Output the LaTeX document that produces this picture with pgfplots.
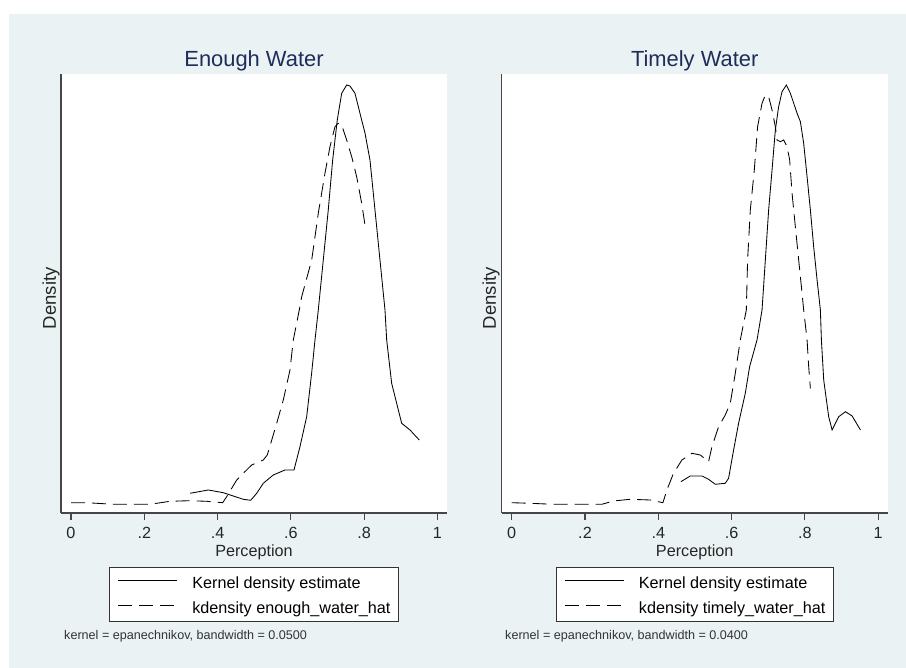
\documentclass[border=0pt]{standalone}
\usepackage{fontspec}
\setmainfont{Liberation Sans}
\usepackage{pgfplots}
\pgfplotsset{compat=1.18}
\definecolor{bgc}{RGB}{234,242,243}
\definecolor{titc}{RGB}{30,45,90}
\definecolor{axc}{RGB}{70,70,70}
\newcommand{\fs}[1]{\fontsize{#1}{#1}\selectfont}
\pgfplotsset{
  stata/.style={
    scale only axis, width=386pt, height=439pt,
    xmin=-0.0273, xmax=1.026, ymin=0, ymax=4.39,
    axis lines*=left,
    axis line style={axc, line width=1.1pt},
    axis background/.style={fill=white},
    xtick={0,0.2,0.4,0.6,0.8,1},
    xticklabels={0,.2,.4,.6,.8,1},
    ytick=\empty,
    tick align=outside, major tick length=7pt,
    tick style={axc, line width=1.1pt},
    xticklabel style={font=\fs{16.2}, anchor=base, inner sep=0pt, yshift=-19pt, text=black!85},
    xlabel style={at={(axis description cs:0.5,0)}, anchor=base, inner sep=0pt, yshift=-43.5pt, font=\fs{16.2}, text=black!85},
    title style={at={(axis description cs:0.5,1)}, anchor=base, yshift=1.5pt, font=\fs{21.9}, text=titc},
    ylabel style={font=\fs{18.5}, anchor=base, text=black!85},
    legend style={at={(axis description cs:0.5,-0.123)}, anchor=north,
      draw=black!80, line width=1pt, fill=white, font=\fs{16.2},
      inner xsep=8pt, inner ysep=6.8pt, row sep=8.4pt,
      nodes={inner sep=0pt, text height=14.5pt, text depth=1.5pt},
      /tikz/every odd column/.append style={column sep=15pt}},
    legend cell align=left,
    legend image code/.code={\draw[#1] (0pt,1.5pt) -- (59pt,1.5pt);},
    solidk/.style={black, line width=0.85pt, solid},
    dashk/.style={black, line width=0.85pt, dash pattern=on 14pt off 7pt},
  }
}
\begin{document}
\begin{tikzpicture}
\useasboundingbox (0pt,0pt) rectangle (906pt,668pt);
\fill[white] (0pt,0pt) rectangle (906pt,668pt);
\fill[bgc] (9pt,0pt) rectangle (906pt,654pt);

\begin{axis}[stata, at={(61pt,155pt)}, anchor=south west,
  title={Enough Water}, xlabel={Perception}, ylabel={Density},
  ylabel style={at={(axis description cs:-0.013,0.489)}}]
\addplot[solidk] coordinates {
(0.3247,0.197) (0.3746,0.23) (0.4156,0.203) (0.4428,0.17) (0.4701,0.137)
(0.4903,0.127) (0.5067,0.197) (0.5247,0.297) (0.552,0.38) (0.5839,0.43)
(0.6085,0.43) (0.6248,0.663) (0.6431,0.963) (0.6567,1.40) (0.6658,1.73)
(0.6748,2.03) (0.6884,2.53) (0.702,3.03) (0.714,3.53) (0.7266,3.93)
(0.7386,4.197) (0.7522,4.28) (0.7612,4.27) (0.7749,4.197) (0.7885,3.997)
(0.8022,3.80) (0.8158,3.53) (0.8295,3.03) (0.8431,2.53) (0.8568,2.03)
(0.8614,1.73) (0.875,1.297) (0.8887,1.097) (0.9023,0.897) (0.925,0.83)
(0.9503,0.73)
};
\addlegendentry{Kernel density estimate}
\addplot[dashk] coordinates {
(0,0.103) (0.0428,0.103) (0.1154,0.087) (0.2156,0.087) (0.2701,0.117)
(0.3247,0.123) (0.3703,0.117) (0.4139,0.103) (0.4248,0.163) (0.4521,0.33)
(0.4701,0.397) (0.493,0.48) (0.5247,0.53) (0.5356,0.58) (0.5613,0.897)
(0.5793,1.13) (0.5975,1.43) (0.6066,1.73) (0.6229,2.03) (0.6295,2.163)
(0.6568,2.53) (0.6748,2.997) (0.693,3.397) (0.7067,3.663) (0.7203,3.863)
(0.7293,3.897) (0.7386,3.88) (0.7522,3.73) (0.7659,3.563) (0.7795,3.363)
(0.7932,3.097) (0.8022,2.88)
};
\addlegendentry{kdensity enough\_water\_hat}
\end{axis}

\begin{axis}[stata, at={(501.7pt,155pt)}, anchor=south west,
  title={Timely Water}, xlabel={Perception}, ylabel={Density},
  ylabel style={at={(axis description cs:-0.0148,0.489)}}]
\addplot[solidk] coordinates {
(0.4617,0.313) (0.4872,0.37) (0.5191,0.37) (0.5372,0.337) (0.5555,0.287)
(0.5828,0.297) (0.5918,0.347) (0.6055,0.63) (0.6191,0.897) (0.6374,1.197)
(0.6492,1.463) (0.6694,1.73) (0.6831,2.03) (0.6921,2.53) (0.7011,3.03)
(0.7104,3.43) (0.7194,3.83) (0.7284,4.063) (0.7377,4.213) (0.7495,4.28)
(0.7604,4.197) (0.7787,3.997) (0.7877,3.913) (0.7967,3.697) (0.806,3.363)
(0.815,3.03) (0.824,2.663) (0.8333,2.33) (0.8423,2.03) (0.8451,1.73)
(0.8514,1.33) (0.865,0.963) (0.8743,0.83) (0.8923,0.963) (0.9107,1.013)
(0.929,0.97) (0.9516,0.83)
};
\addlegendentry{Kernel density estimate}
\addplot[dashk] coordinates {
(0,0.103) (0.05,0.097) (0.1137,0.087) (0.2459,0.087) (0.2776,0.12)
(0.3232,0.137) (0.3778,0.13) (0.4126,0.103) (0.4235,0.23) (0.4415,0.397)
(0.4645,0.53) (0.4918,0.597) (0.5145,0.58) (0.5372,0.513) (0.5464,0.663)
(0.5645,0.863) (0.5828,0.98) (0.5964,1.097) (0.6101,1.397) (0.6238,1.73)
(0.6402,2.03) (0.6437,2.53) (0.6511,3.03) (0.6620,3.43) (0.6710,3.863)
(0.6831,4.097) (0.6921,4.18) (0.7011,4.163) (0.7104,4.03) (0.7194,3.863)
(0.7240,3.73) (0.7331,3.713) (0.7421,3.73) (0.7514,3.663) (0.7585,3.53)
(0.765,3.197) (0.774,2.863) (0.7831,2.53) (0.7923,2.197) (0.7967,2.03)
(0.806,1.73) (0.8104,1.463) (0.815,1.247)
};
\addlegendentry{kdensity timely\_water\_hat}
\end{axis}

\node[anchor=base west, font=\fs{12.6}, text=black!80, inner sep=0pt] at (64pt,28.7pt) {kernel = epanechnikov, bandwidth = 0.0500};
\node[anchor=base west, font=\fs{12.6}, text=black!80, inner sep=0pt] at (505pt,28.7pt) {kernel = epanechnikov, bandwidth = 0.0400};
\end{tikzpicture}
\end{document}
